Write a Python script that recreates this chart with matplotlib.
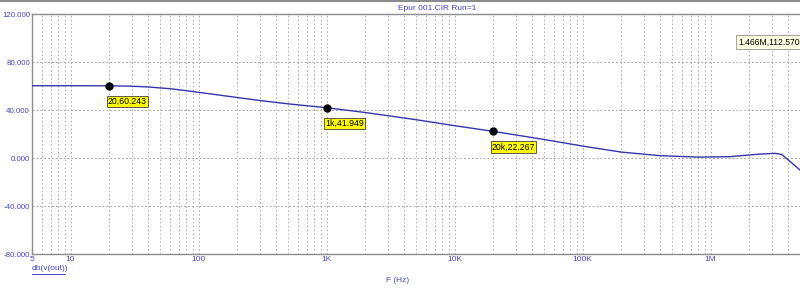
import matplotlib
matplotlib.use("Agg")
import matplotlib.pyplot as plt
from matplotlib.ticker import FixedLocator, NullFormatter, LogLocator

plt.rcParams['font.family'] = ['Liberation Sans', 'DejaVu Sans']

# Data
freq_hz = [5, 10, 20, 30, 40, 60, 80, 100, 150, 200, 300, 500, 1000, 2000,
           5000, 10000, 20000, 50000, 100000, 200000, 400000, 800000, 1.4e6,
           2.4e6, 3.2e6, 3.6e6, 4.2e6, 5e6]
gain_db = [60.3, 60.3, 60.243, 59.9, 59.3, 57.8, 56.2, 54.8, 52.3, 50.5, 48.0,
           45.2, 41.949, 38.0, 32.0, 27.0, 22.267, 15.5, 10.0, 5.0, 2.0, 0.8,
           1.1, 3.3, 3.9, 3.0, -3.0, -10.0]
marker_f = [20, 1000, 20000]
marker_db = [60.243, 41.949, 22.267]
marker_labels = ["20,60.243", "1k,41.949", "20k,22.267"]
yticks = [-80, -40, 0, 40, 80, 120]
ytick_labels = ["-80.000", "-40.000", "0.000", "40.000", "80.000", "120.000"]
xticks = [5, 10, 100, 1e3, 1e4, 1e5, 1e6]
xtick_labels = ["5", "10", "100", "1K", "10K", "100K", "1M"]
title = "Epur 001.CIR Run=1"
cursor_text = "1.466M,112.570"

blue = '#4646c8'
line_blue = '#3535b0'
grid_c = '#a8a8a8'

fig = plt.figure(figsize=(8, 2.88), dpi=100)
ax = fig.add_axes([0.04, 0.118, 0.96, 0.833])
ax.set_xscale('log')
ax.set_xlim(5, 5e6)
ax.set_ylim(-80, 120)

ax.plot(freq_hz, gain_db, color=line_blue, lw=1.0, zorder=3)
ax.plot(marker_f, marker_db, 'o', color='black', ms=5, zorder=4)
for f, d, lab in zip(marker_f, marker_db, marker_labels):
    ax.annotate(lab, (f, d), xytext=(-1, -8), textcoords='offset points',
                ha='left', va='top', fontsize=6.3, color='black',
                bbox=dict(boxstyle='square,pad=0.12', fc='#ffff00', ec='#404040', lw=0.6),
                zorder=5)

ax.xaxis.set_major_locator(FixedLocator(xticks))
ax.xaxis.set_minor_locator(LogLocator(base=10, subs=range(2, 10), numticks=20))
ax.xaxis.set_minor_formatter(NullFormatter())
ax.set_xticks(xticks)
ax.set_xticklabels(xtick_labels, fontsize=6, color=blue)
ax.set_yticks(yticks)
ax.set_yticklabels(ytick_labels, fontsize=5.7, color=blue)
ax.tick_params(which='both', length=0)
ax.tick_params(axis='y', pad=1.5)
ax.tick_params(axis='x', pad=1.5)

ax.grid(True, which='both', axis='x', color=grid_c, ls=(0, (1.5, 2.5)), lw=0.7)
ax.grid(True, which='major', axis='y', color=grid_c, ls=(0, (2, 2)), lw=0.7)
ax.set_axisbelow(True)

ax.spines['right'].set_visible(False)
for s in ['left', 'bottom', 'top']:
    ax.spines[s].set_color('#8c8c8c')
    ax.spines[s].set_linewidth(1.0)

# top window border line
fig.add_artist(plt.Line2D([0, 1], [0.996, 0.996], transform=fig.transFigure,
                          color='#8c8c8c', lw=1.5))

fig.text(437 / 800, 1 - 8 / 288, title, ha='center', va='center',
         fontsize=6, color=blue)
fig.text(32 / 800, 1 - 269 / 288, "db(v(out))", ha='left', va='center',
         fontsize=6, color=blue)
fig.add_artist(plt.Line2D([32 / 800, 65 / 800], [1 - 273.5 / 288, 1 - 273.5 / 288],
                          transform=fig.transFigure, color=blue, lw=0.7))
fig.text(398 / 800, 1 - 280 / 288, "F (Hz)", ha='center', va='center',
         fontsize=6, color=blue)
fig.text(738 / 800, 1 - 42 / 288, cursor_text, ha='left', va='center',
         fontsize=6.2, color='black',
         bbox=dict(boxstyle='square,pad=0.25', fc='#ffffe1', ec='#909090', lw=0.6))

fig.savefig('out.png', dpi=100)
